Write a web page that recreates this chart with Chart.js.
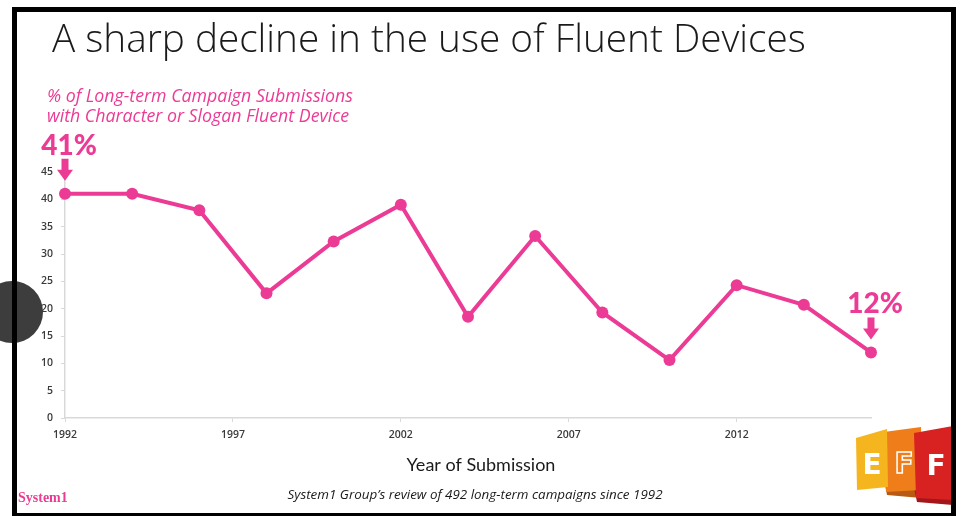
<!DOCTYPE html>
<html>
<head>
<meta charset="utf-8">
<title>Fluent Devices</title>
<script src="https://cdn.jsdelivr.net/npm/chart.js@4.4.1/dist/chart.umd.min.js"></script>
<style>
    html, body { margin: 0; padding: 0; background: #fff; }
    #wrap { width: 961px; height: 516px; position: relative; }
</style>
</head>
<body>
<div id="wrap">
    <canvas id="fluentChart" width="961" height="516"></canvas>
</div>
<script>
const years = [1992, 1994, 1996, 1998, 2000, 2002, 2004, 2006, 2008, 2010, 2012, 2014, 2016];
const fluentShare = [41, 41, 38, 22.8, 32.3, 39, 18.5, 33.3, 19.3, 10.6, 24.3, 20.7, 12];
const yearTicks = [1992, 1997, 2002, 2007, 2012];
const calloutPoints = [0, 12];

const PINK = '#ec3b95';
const AXIS_GREY = '#d9d9d9';

// draw text so it spans the given width, sizing the font to fit
function fitText(c, text, x, y, width, font) {
    c.font = font(20);
    const size = 20 * width / c.measureText(text).width;
    c.font = font(size);
    c.fillText(text, x, y);
}

// headline, notes, callouts and frame around the plot
const slideDecor = {
    id: 'slideDecor',
    afterDraw(chart) {
        const c = chart.ctx;
        c.save();

        c.fillStyle = '#1a1a1a';
        c.textBaseline = 'alphabetic';
        c.textAlign = 'left';
        fitText(c, 'A sharp decline in the use of Fluent Devices', 52, 52, 754, s => `300 ${s}px "Open Sans"`);

        // second line keeps the font sized for the first
        c.fillStyle = PINK;
        fitText(c, '% of Long-term Campaign Submissions', 47, 102, 306, s => `italic ${s}px "Open Sans"`);
        c.fillText('with Character or Slogan Fluent Device', 47, 122);

        // value callouts with arrows
        const pts = chart.getDatasetMeta(0).data;
        calloutPoints.forEach(i => {
            const p = pts[i];
            const tip = p.y - 13;
            const top = tip - 22;
            c.fillStyle = PINK;
            c.beginPath();
            c.moveTo(p.x - 3.5, top);
            c.lineTo(p.x + 3.5, top);
            c.lineTo(p.x + 3.5, tip - 11);
            c.lineTo(p.x + 8, tip - 11);
            c.lineTo(p.x, tip);
            c.lineTo(p.x - 8, tip - 11);
            c.lineTo(p.x - 3.5, tip - 11);
            c.closePath();
            c.fill();
            c.textAlign = 'center';
            c.font = '900 28px Lato';
            c.fillText(fluentShare[i] + '%', p.x + 4, top - 4);
        });

        c.fillStyle = '#1a1a1a';
        c.textAlign = 'center';
        c.font = '18px Lato';
        c.fillText('Year of Submission', 481, 471);

        c.font = 'italic 13.4px "Open Sans"';
        c.fillText('System1 Group\u2019s review of 492 long-term campaigns since 1992', 475, 499);

        c.textAlign = 'left';
        c.fillStyle = PINK;
        c.font = 'bold 14px "Liberation Serif"';
        c.fillText('System1', 18, 502);

        // EFF logo banners
        const poly = (col, pts) => {
            c.fillStyle = col;
            c.beginPath();
            pts.forEach((q, k) => k ? c.lineTo(q[0], q[1]) : c.moveTo(q[0], q[1]));
            c.closePath();
            c.fill();
        };
        poly('#b85a12', [[884, 480], [921, 484], [921, 498], [887, 495]]);
        poly('#a3161a', [[914, 488], [953, 490], [953, 505], [917, 502]]);
        poly('#ee7d1a', [[884, 432], [921, 427], [922, 490], [886, 492]]);
        poly('#d82222', [[914, 433], [953, 426], [953, 500], [916, 498]]);
        poly('#f5b51f', [[856, 438], [887, 429], [888, 487], [857, 490]]);
        c.fillStyle = '#fff';
        c.textAlign = 'center';
        c.font = 'bold 28px "DejaVu Sans"';
        c.fillText('E', 872, 474);
        c.fillText('F', 936, 475);
        c.strokeStyle = '#fff';
        c.lineWidth = 1.5;
        c.strokeText('F', 904, 473);

        // presenter bubble on the left edge
        c.fillStyle = '#3d3d3d';
        c.beginPath();
        c.arc(12, 312, 31, 0, Math.PI * 2);
        c.fill();

        // slide frame
        c.fillStyle = '#000';
        c.fillRect(12, 7, 5, 509);
        c.fillRect(12, 7, 944, 5);
        c.fillRect(951, 7, 5, 509);
        c.fillRect(12, 513, 944, 3);

        c.restore();
    }
};

new Chart(document.getElementById('fluentChart').getContext('2d'), {
    type: 'line',
    data: {
        datasets: [{
            data: years.map((y, i) => ({ x: y, y: fluentShare[i] })),
            borderColor: PINK,
            backgroundColor: PINK,
            borderWidth: 4,
            pointRadius: 6,
            pointBorderWidth: 0,
            pointHoverRadius: 6,
            tension: 0,
            clip: false
        }]
    },
    options: {
        responsive: false,
        animation: false,
        events: [],
        layout: { padding: { top: 172, right: 90, bottom: 0, left: 0 } },
        plugins: {
            legend: { display: false },
            tooltip: { enabled: false }
        },
        scales: {
            x: {
                type: 'linear',
                min: 1992,
                max: 2016,
                afterBuildTicks: s => { s.ticks = yearTicks.map(v => ({ value: v })); },
                afterFit: s => { s.height = 98; },
                border: { color: AXIS_GREY, width: 1.5 },
                grid: { drawOnChartArea: false, color: AXIS_GREY, tickLength: 4 },
                ticks: {
                    color: '#3a3a3a',
                    padding: 7,
                    maxRotation: 0,
                    font: { family: '"Open Sans"', size: 10.5, weight: '600' },
                    callback: v => String(v)
                }
            },
            y: {
                min: 0,
                max: 45,
                afterFit: s => { s.width = 65; },
                border: { color: AXIS_GREY, width: 1.5 },
                grid: { drawOnChartArea: false, color: AXIS_GREY, tickLength: 4 },
                ticks: {
                    stepSize: 5,
                    color: '#3a3a3a',
                    padding: 8,
                    font: { family: '"Open Sans"', size: 10.5, weight: '600' }
                }
            }
        }
    },
    plugins: [slideDecor]
});
</script>
</body>
</html>
